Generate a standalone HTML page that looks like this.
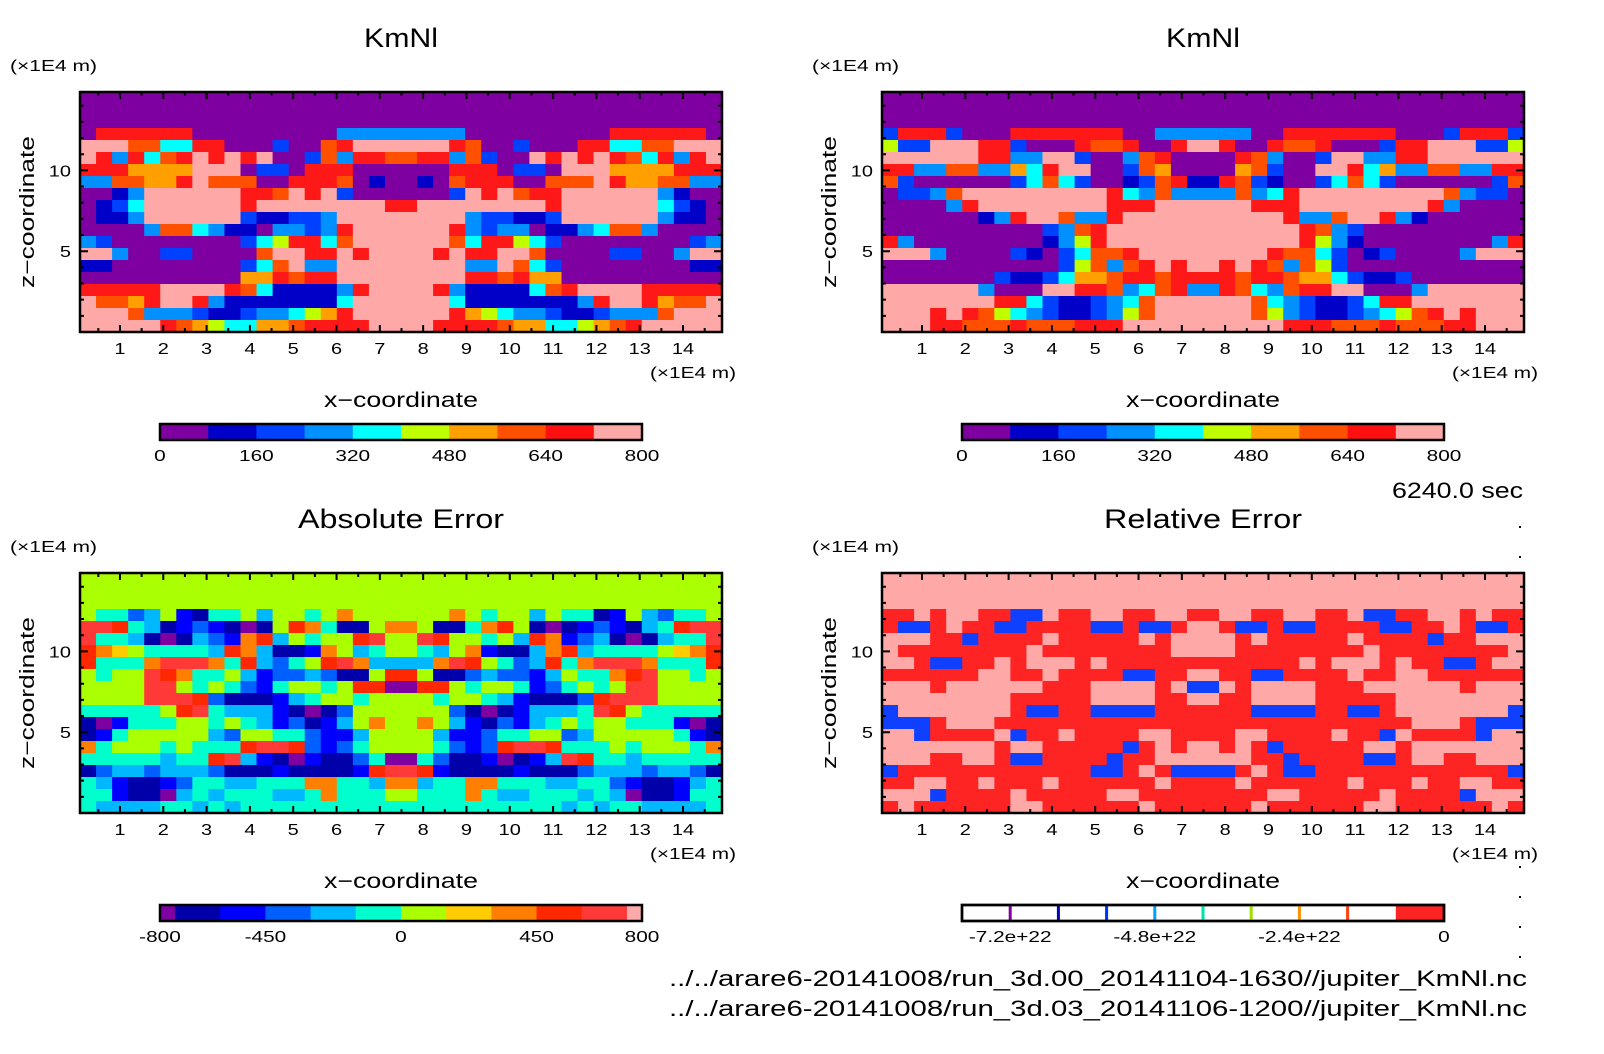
<!DOCTYPE html>
<html><head><meta charset="utf-8">
<style>
html,body{margin:0;padding:0;background:#fff;}
svg{display:block;}
text{font-family:"Liberation Sans","DejaVu Sans",sans-serif;fill:#000;}
</style></head>
<body>
<svg id="chart" width="1604" height="1054" viewBox="0 0 1604 1054" xmlns="http://www.w3.org/2000/svg">
<rect x="0" y="0" width="1604" height="1054" fill="#fff"/>
<g id="layer"></g>
<text x="1392" y="498" font-size="22" textLength="131" lengthAdjust="spacingAndGlyphs">6240.0 sec</text>
<text x="669" y="986" font-size="22" textLength="858" lengthAdjust="spacingAndGlyphs">../../arare6-20141008/run_3d.00_20141104-1630//jupiter_KmNl.nc</text>
<text x="669" y="1016" font-size="22" textLength="858" lengthAdjust="spacingAndGlyphs">../../arare6-20141008/run_3d.03_20141106-1200//jupiter_KmNl.nc</text>
<g fill="#000">
<rect x="1519" y="526" width="2" height="2"/><rect x="1519" y="556" width="2" height="2"/>
<rect x="1519" y="866" width="2" height="2"/><rect x="1519" y="896" width="2" height="2"/><rect x="1519" y="926" width="2" height="2"/><rect x="1519" y="956" width="2" height="2"/>
</g>
</svg>
<script>
// Field data: left half of each row (top row first); the fields are mirror-symmetric about x=7.5
const tlRows = ["00000000000000000000","00000000000000000000","00000000000000000000","08888880000000003333","99977448800020078999","98384789898900273887","88866669990220888000","33776689777008887010","00139999998879892000","01249999998999999998","01139999992112239999","00003774311033238999","32000000002458847999","99300220000799889899","11000000002479339999","00000000006687889999","88888999987411113899","97768998311111114999","99973332112334568999","99999876544667888899"];
const trRows = ["00000000000000000000","00000000000000000000","00000000000000000000","28882000888888800333","52299988200087780089","99999988339920037800","88337733648990027600","72000000247420012781","02237999999999843733","00003899999999888999","00000013899733899999","00000000002378999999","83000000001358999999","99930000210247789999","00000000000257378989","00000002112466788788","99999930009988734783","99999998842112347999","99989875432112357999","99988777877788899999"];
const blRows = ["66666666666666666666","66666666666666666666","66666666666666666666","65534621556466568666","aa954123210169851168","a55410143289465669a6","98765555498411286456","95558aaa85943569a844","6566a985564233431169","6666aa65653256656990","6666aaa9311124566566","5555569a544421013666","10255566565423124686","12566666436655322466","85666565559aa9323566","555554559a4210211350","1344344431112111129a","54211235544555885548","55211045455544585556","54444554545555555555"];
const brRows = ["pppppppppppppppppppp","pppppppppppppppppppp","pppppppppppppppppppp","rrprpprrbbprrpprrppr","rbbrprrbbrrrrbbrbbrp","ppprrbrrrrprrrrrprpp","prrrrrrrrprrrrrrrrpp","pprbbrrprppprprrrrrr","rrrrrrpprrprrrrbbrrp","ppprpppppprrrpppprpb","pppppppprrrrrpppprrp","bppppppprbbrrbbbbrrr","bbbrppprrrrrrrrrrrrr","ppbrrrrpbrrprrrrpprr","ppppppprpprrrrrbrprp","ppprrpprbbrrrrbrrppp","brrrrrrrrrrrrbbrprbb","rrpprrprrrprrrrrrprr","pppbrrrrprrrrrpprrrr","rprrrrrrpprrrrrrprrr"];

const xTicks = [1,2,3,4,5,6,7,8,9,10,11,12,13,14];
const yTicks = [5,10];
const kmLabels = ["0","160","320","480","640","800"];
const absLabels = ["-800","-450","0","450","800"];
const absLabelVals = [-800,-450,0,450,800];
const relLabels = ["-7.2e+22","-4.8e+22","-2.4e+22","0"];
const relLabelVals = [-7.2e22,-4.8e22,-2.4e22,0];

const kmColors = {"0":"#7f00a0","1":"#0000c8","2":"#0040ff","3":"#0090ff","4":"#00ffff","5":"#c0ff00","6":"#ffa000","7":"#ff5000","8":"#ff1818","9":"#ffa8a8"};
const absColors = {"0":"#7f00a0","1":"#0000aa","2":"#0000ff","3":"#0060ff","4":"#00b8ff","5":"#00ffcc","6":"#aaff00","7":"#ffcc00","8":"#ff8000","9":"#ff2800","a":"#ff3838","b":"#ffaaaa"};
const relColors = {"p":"#ffa8a8","r":"#ff2424","b":"#1040ff","w":"#ffffff"};
const kmBar = ["#7f00a0","#0000c8","#0040ff","#0090ff","#00ffff","#c0ff00","#ffa000","#ff5000","#ff1010","#ffa8a8"];
const absBar = ["#7f00a0","#0000aa","#0000ff","#0060ff","#00b8ff","#00ffcc","#aaff00","#ffcc00","#ff8000","#ff2800","#ff3838","#ffaaaa"];
const absEdges = [-800,-750,-600,-450,-300,-150,0,150,300,450,600,750,800];
const relLines = ["#8000a0","#0000c0","#0030ff","#00a0ff","#00e0b0","#a0e000","#ff9000","#ff4010"];

const NS="http://www.w3.org/2000/svg";
const layer=document.getElementById('layer');
function mk(tag,attrs,parent){const e=document.createElementNS(NS,tag);for(const k in attrs)e.setAttribute(k,attrs[k]);(parent||layer).appendChild(e);return e;}
function txt(s,attrs,parent){const e=mk('text',attrs,parent);e.textContent=s;return e;}
function widen(e,f){try{const w=e.getComputedTextLength();if(w>0){e.setAttribute('textLength',(w*f).toFixed(1));e.setAttribute('lengthAdjust','spacingAndGlyphs');}}catch(err){}}

const XMIN=0.077,XMAX=14.9,YMIN=0,YMAX=14.85;
function panel(ox,oy,rows,colors,title,titleLen,name){
  const L=80+ox,T=92+oy,W=642,H=240;
  const xs=v=>L+(v-XMIN)/(XMAX-XMIN)*W;
  const ys=v=>T+H-(v-YMIN)/(YMAX-YMIN)*H;
  const g=mk('g',{});
  
  
  const field=mk('g',{},g);
  
  
  const nr=rows.length;
  rows.forEach((half,ri)=>{
    const full=half+half.split('').reverse().join('');
    const nc=full.length,cw=W/nc,ch=H/nr;
    for(let ci=0;ci<nc;ci++){
      const r=mk('rect',{x:(L+ci*cw).toFixed(2),y:(T+ri*ch).toFixed(2),width:(cw+0.6).toFixed(2),height:(ch+0.6).toFixed(2),fill:colors[full[ci]]},field);
      
      
    }
  });
  mk('rect',{x:L,y:T,width:W,height:H,fill:'none',stroke:'#000','stroke-width':2.5},g);
  let tp='';
  for(let v=0.5;v<XMAX;v+=0.5){const x=xs(v);const len=(Math.abs(v-Math.round(v))<1e-6)?7:4;tp+=`M${x},${T}v${len}M${x},${T+H}v${-len}`;}
  for(let v=1;v<YMAX;v+=1){const y=ys(v);const len=(v%5===0)?8:4;tp+=`M${L},${y}h${len}M${L+W},${y}h${-len}`;}
  mk('path',{d:tp,stroke:'#000','stroke-width':2,fill:'none'},g);
  xTicks.forEach(v=>{const t=txt(String(v),{x:xs(v),y:T+H+22,'text-anchor':'middle','font-size':16},g);widen(t,1.25);});
  yTicks.forEach(v=>{const t=txt(String(v),{x:L-9,y:ys(v)+6,'text-anchor':'end','font-size':16},g);widen(t,1.25);});
  const tt=txt(title,{x:L+W/2-titleLen/2,y:47+oy,'font-size':27,textLength:titleLen,lengthAdjust:'spacingAndGlyphs'},g);
  
  const u1=txt('(×1E4 m)',{x:10+ox,y:71+oy,'font-size':16,textLength:87,lengthAdjust:'spacingAndGlyphs'},g);
  
  const u2=txt('(×1E4 m)',{x:650+ox,y:378+oy,'font-size':16,textLength:86,lengthAdjust:'spacingAndGlyphs'},g);
  
  const xl=txt('x−coordinate',{x:L+W/2-77,y:407+oy,'font-size':21,textLength:154,lengthAdjust:'spacingAndGlyphs'},g);
  
  const yl=txt('z−coordinate',{x:-76,y:0,'font-size':20,textLength:152,lengthAdjust:'spacingAndGlyphs',transform:`translate(${34+ox},${212+oy}) rotate(-90)`},g);
  
}
function colorbar(ox,oy,edges,cols,labels,labelVals,name){
  const L=160+ox,T=424+oy,W=482,H=16;
  const cs=v=>L+(v-edges[0])/(edges[edges.length-1]-edges[0])*W;
  const g=mk('g',{});
  
  
  cols.forEach((c,i)=>{const r=mk('rect',{x:cs(edges[i]),y:T,width:cs(edges[i+1])-cs(edges[i])+0.5,height:H,fill:c},g);});
  mk('rect',{x:L,y:T,width:W,height:H,fill:'none',stroke:'#000','stroke-width':2.5},g);
  labels.forEach((s,i)=>{const t=txt(s,{x:cs(labelVals[i]),y:T+H+21,'text-anchor':'middle','font-size':16},g);widen(t,1.3);});
  return {g,cs,L,T,W,H};
}
panel(0,0,tlRows,kmColors,'KmNl',74,'panel-kmnl-run00');
panel(802,0,trRows,kmColors,'KmNl',74,'panel-kmnl-run03');
panel(0,481,blRows,absColors,'Absolute Error',206,'panel-absolute-error');
panel(802,481,brRows,relColors,'Relative Error',198,'panel-relative-error');

const kmEdges=[0,80,160,240,320,400,480,560,640,720,800];
colorbar(0,0,kmEdges,kmBar,kmLabels,[0,160,320,480,640,800],'colorbar-kmnl-left');
colorbar(802,0,kmEdges,kmBar,kmLabels,[0,160,320,480,640,800],'colorbar-kmnl-right');
colorbar(0,481,absEdges,absBar,absLabels,absLabelVals,'colorbar-absolute-error');
const relEdges=[-8e22,-7.2e22,-6.4e22,-5.6e22,-4.8e22,-4e22,-3.2e22,-2.4e22,-1.6e22,-0.8e22,0];
const relBins=["#fff","#fff","#fff","#fff","#fff","#fff","#fff","#fff","#fff","#ff2424"];
const cb=colorbar(802,481,relEdges,relBins,relLabels,relLabelVals,'colorbar-relative-error');
relLines.forEach((c,i)=>{const x=cb.cs(relEdges[i+1]);const l=mk('rect',{x:x-1.5,y:cb.T+1,width:3,height:cb.H-2,fill:c},cb.g);});
mk('rect',{x:cb.L,y:cb.T,width:cb.W,height:cb.H,fill:'none',stroke:'#000','stroke-width':2.5},cb.g);
</script>
</body></html>
